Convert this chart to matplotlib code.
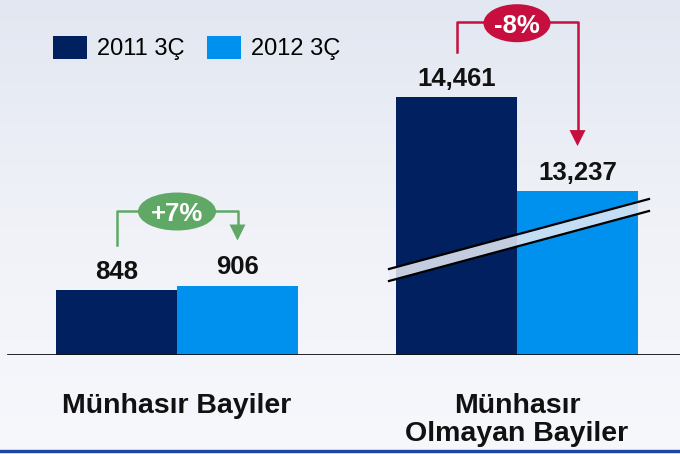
import numpy as np
import matplotlib
matplotlib.use("Agg")
import matplotlib.pyplot as plt
from matplotlib.colors import LinearSegmentedColormap
from matplotlib.lines import Line2D
from matplotlib.patches import Ellipse, Polygon
from matplotlib.transforms import IdentityTransform

plt.rcParams['font.family'] = ['Liberation Sans', 'DejaVu Sans']

# data
categories = ["Münhasır Bayiler", "Münhasır\nOlmayan Bayiler"]
series_names = ["2011 3Ç", "2012 3Ç"]
values_2011 = [848, 14461]
values_2012 = [906, 13237]
changes = ["+7%", "-8%"]

dark = "#002060"
light = "#0091ee"
green = "#5fa865"
red = "#c60f3e"

# broken y axis: values between BREAK_LO and BREAK_LO + GAP are cut out
BREAK_LO = 2000
GAP = 11100


def forward(v):
    v = np.asarray(v, dtype=float)
    return np.where(v > BREAK_LO + GAP, v - GAP, np.minimum(v, BREAK_LO))


def inverse(u):
    u = np.asarray(u, dtype=float)
    return np.where(u > BREAK_LO, u + GAP, u)


W, H = 680, 454
fig = plt.figure(figsize=(W / 100, H / 100), dpi=100)

# background gradient
bg = fig.add_axes([0, 0, 1, 1], zorder=-10)
grad = np.linspace(0, 1, 256).reshape(-1, 1)
cmap = LinearSegmentedColormap.from_list("bg", ["#e2e7f1", "#f0f2f8", "#f7f8fc"])
bg.imshow(grad, aspect="auto", cmap=cmap, extent=[0, 1, 0, 1])
bg.axis("off")

base_px = 355
ax = fig.add_axes([0, 1 - base_px / H, 1, base_px / H])
ax.patch.set_alpha(0)
ax.set_yscale("function", functions=(forward, inverse))

pos = np.arange(len(categories))
w = 121 / 340
ax.bar(pos - w / 2, values_2011, w, color=dark, linewidth=0, label=series_names[0])
ax.bar(pos + w / 2, values_2012, w, color=light, linewidth=0, label=series_names[1])

ax.set_xlim(-177 / 340, 1 + 163 / 340)
ax.set_ylim(0, float(inverse(base_px / 0.0767)))
ax.set_xticks([])
ax.set_yticks([])
ax.minorticks_off()
for s in ax.spines.values():
    s.set_visible(False)
ax.axhline(0, xmin=8 / W, xmax=1, color="#111111", lw=2, zorder=5)

# value labels
for xs, vals in ((pos - w / 2, values_2011), (pos + w / 2, values_2012)):
    for x, v in zip(xs, vals):
        ax.annotate(f"{v:,}", xy=(x, v), xytext=(0, 8), textcoords="offset points",
                    ha="center", va="baseline", fontsize=18.5, fontweight="bold",
                    color="#111111")

# category labels
for x, cat in zip(pos, categories):
    ax.annotate(cat, xy=(x, 0), xytext=(0, -27.5), textcoords="offset points",
                ha="center", va="top", fontsize=20.5, fontweight="bold",
                linespacing=1.08, color="#111111")

ax.legend(loc="center left", bbox_to_anchor=(53 / W, 1 - 48 / H),
          bbox_transform=fig.transFigure, ncol=2, frameon=False,
          fontsize=17, handlelength=1.44, handleheight=1.15,
          handletextpad=0.42, columnspacing=0.95, borderpad=0, borderaxespad=0)

ident = IdentityTransform()


def to_px(x, v):
    return ax.transData.transform((x, v))


def bracket(i, text, color, size, ell_w, ell_h):
    xd, yd = to_px(pos[i] - w / 2, values_2011[i])
    xl, yl = to_px(pos[i] + w / 2, values_2012[i])
    y_top = max(yd, yl) + 75
    y_start = yd + 45
    y_tip = yl + 45
    fig.add_artist(Line2D([xd, xd, xl, xl], [y_start, y_top, y_top, y_tip + 12],
                          transform=ident, color=color, lw=1.8))
    fig.add_artist(Polygon([(xl - 8, y_tip + 16), (xl + 8, y_tip + 16), (xl, y_tip)],
                           closed=True, transform=ident, color=color, lw=0))
    xc = (xd + xl) / 2
    fig.add_artist(Ellipse((xc, y_top - 1), ell_w, ell_h, transform=ident,
                           color=color, lw=0))
    fig.text(xc, y_top - 1, text, transform=ident, ha="center", va="center_baseline",
             color="white", fontsize=size, fontweight="bold")


bracket(0, changes[0], green, 18.5, 78, 38)
bracket(1, changes[1], red, 18.5, 67, 38)

# axis break marker across the second group
cx, cy = to_px(pos[1], 0)
x0, x1 = cx - 128, cx + 132
up = [cy + 86, cy + 156]
lo = [cy + 74, cy + 144]
fig.add_artist(Polygon([(x0, up[0]), (x1, up[1]), (x1, lo[1]), (x0, lo[0])],
                       closed=True, transform=ident, color="#e6ecf6", alpha=0.85, lw=0))
fig.add_artist(Line2D([x0, x1], up, transform=ident, color="black", lw=1.6))
fig.add_artist(Line2D([x0, x1], lo, transform=ident, color="black", lw=1.6))

# bottom rule
fig.add_artist(Line2D([0, 1], [3 / H, 3 / H], transform=fig.transFigure,
                      color="#1a47a6", lw=2.4))

fig.savefig("out.png", dpi=100)
